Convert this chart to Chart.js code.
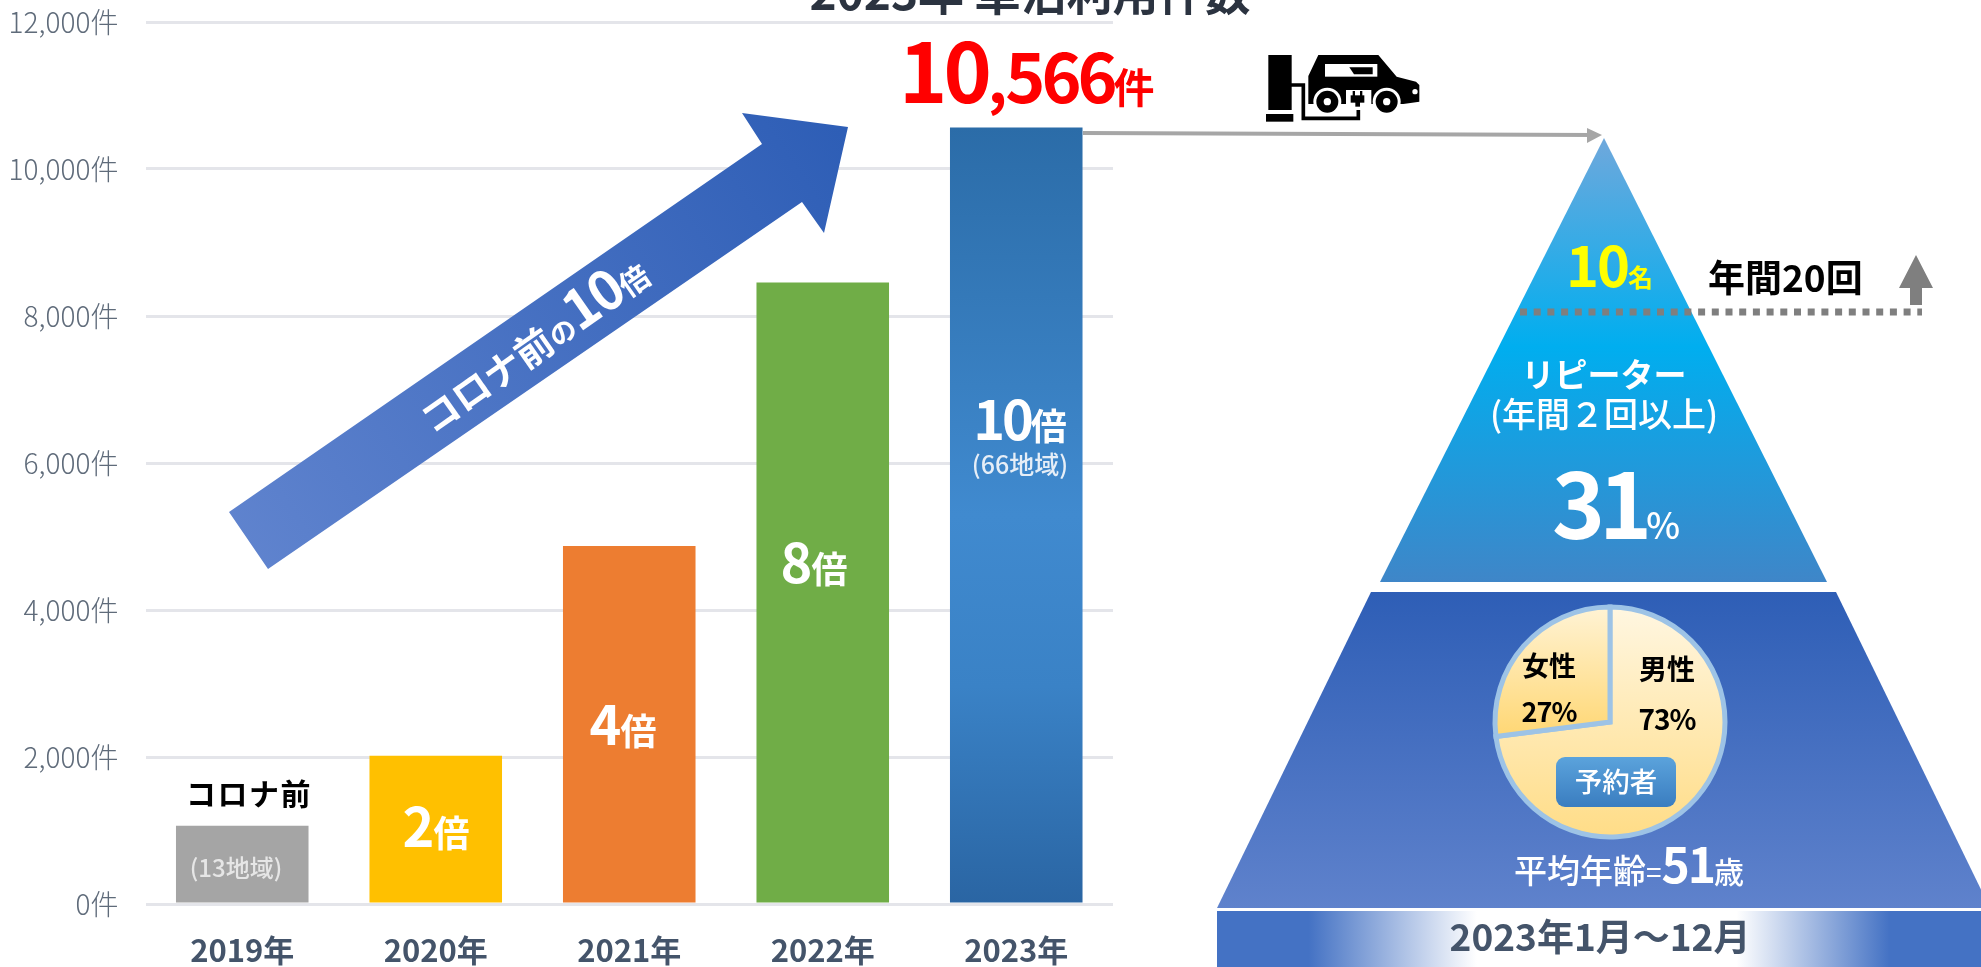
<!DOCTYPE html>
<html lang="ja">
<head>
<meta charset="utf-8">
<title>2023年 車泊利用件数</title>
<script src="https://cdn.jsdelivr.net/npm/chart.js@4"></script>
<style>
  html, body { margin: 0; padding: 0; background: #fff; overflow: hidden; }
  #wrap { position: relative; width: 1981px; height: 967px; }
  #barChart { position: absolute; left: 0; top: 0; }
  #pieChart { position: absolute; left: 1490px; top: 602px; }
</style>
</head>
<body>
<div id="wrap">
  <canvas id="barChart" width="1981" height="967"></canvas>
  <canvas id="pieChart" width="240" height="240"></canvas>
</div>
<script>
// Values
const years = ['2019年', '2020年', '2021年', '2022年', '2023年'];
const usage = [1065, 2017, 4870, 8456, 10566];
const barColors = ['#A5A5A5', '#FFC000', '#ED7D31', '#70AD47', null];
const genderLabels = ['男性', '女性'];
const genderShare = [73, 27];

const FONT = '"Noto Sans CJK JP", "Noto Sans", sans-serif';

// Draw a row of text pieces on one baseline. Each piece: [text, size, letter spacing, weight]
function drawRuns(ctx, x, y, runs, color, align) {
    ctx.save();
    ctx.fillStyle = color;
    ctx.textBaseline = 'alphabetic';
    ctx.textAlign = 'left';
    const setFont = r => {
        ctx.font = `${r[3] || 700} ${r[1]}px ${FONT}`;
        ctx.letterSpacing = `${r[2] || 0}px`;
    };
    let total = 0;
    runs.forEach(r => {
        setFont(r);
        total += ctx.measureText(r[0]).width;
    });
    let cx = align === 'center' ? x - total / 2 : x;
    runs.forEach(r => {
        setFont(r);
        ctx.fillText(r[0], cx, y);
        cx += ctx.measureText(r[0]).width;
    });
    ctx.restore();
}

function poly(ctx, points, fill) {
    ctx.beginPath();
    points.forEach((p, i) => i ? ctx.lineTo(p[0], p[1]) : ctx.moveTo(p[0], p[1]));
    ctx.closePath();
    ctx.fillStyle = fill;
    ctx.fill();
}

function linear(ctx, x0, y0, x1, y1, stops) {
    const g = ctx.createLinearGradient(x0, y0, x1, y1);
    stops.forEach(s => g.addColorStop(s[0], s[1]));
    return g;
}

function drawCarIcon(ctx) {
    ctx.save();
    ctx.translate(1250, 40);
    ctx.scale(1 / 3, 1 / 3);
    ctx.fillStyle = '#000';
    ctx.fillRect(55, 45, 70, 165);
    ctx.fillRect(48, 222, 82, 23);
    // cable
    ctx.strokeStyle = '#000';
    ctx.lineWidth = 11;
    ctx.beginPath();
    ctx.moveTo(120, 135);
    ctx.lineTo(160, 135);
    ctx.lineTo(160, 235);
    ctx.lineTo(325, 235);
    ctx.lineTo(325, 195);
    ctx.stroke();
    // body
    ctx.beginPath();
    ctx.moveTo(175, 192);
    ctx.lineTo(175, 108);
    ctx.lineTo(205, 45);
    ctx.lineTo(385, 45);
    ctx.lineTo(440, 110);
    ctx.lineTo(498, 125);
    ctx.lineTo(508, 135);
    ctx.lineTo(508, 185);
    ctx.lineTo(460, 192);
    ctx.closePath();
    ctx.fill();
    // window
    ctx.fillStyle = '#fff';
    ctx.fillRect(225, 72, 157, 38);
    poly(ctx, [[298, 82], [368, 82], [368, 103], [312, 103]], '#000');
    // wheel arches and plug gap
    ctx.fillStyle = '#fff';
    [[232, 185], [410, 185]].forEach(w => {
        ctx.beginPath();
        ctx.arc(w[0], w[1], 42, 0, Math.PI * 2);
        ctx.fill();
    });
    ctx.fillRect(288, 150, 76, 60);
    ctx.fillStyle = '#000';
    [[232, 185], [410, 185]].forEach(w => {
        ctx.beginPath();
        ctx.arc(w[0], w[1], 33, 0, Math.PI * 2);
        ctx.fill();
        ctx.fillStyle = '#fff';
        ctx.beginPath();
        ctx.arc(w[0], w[1], 11, 0, Math.PI * 2);
        ctx.fill();
        ctx.fillStyle = '#000';
    });
    // plug
    ctx.fillRect(308, 153, 7, 15);
    ctx.fillRect(330, 153, 7, 15);
    ctx.fillRect(302, 166, 41, 22);
    ctx.fillRect(316, 186, 14, 14);
    ctx.fillStyle = '#fff';
    ctx.beginPath();
    ctx.arc(495, 155, 8, 0, Math.PI * 2);
    ctx.fill();
    ctx.restore();
}

// Shapes behind the bars: the pyramid on the right. Notes go on top afterwards.
const backdrop = {
    id: 'backdrop',
    beforeDraw(chart) {
        const ctx = chart.ctx;

        // upper pyramid
        poly(ctx, [[1604, 138], [1827, 582], [1380, 582]],
            linear(ctx, 0, 138, 0, 582, [[0, '#6FA8DC'], [0.47, '#00AEEF'], [1, '#3F86C8']]));
        // lower pyramid
        poly(ctx, [[1371, 592], [1836, 592], [1990, 908], [1217, 908]],
            linear(ctx, 0, 592, 0, 908, [[0, '#2E5EB6'], [1, '#5F82CC']]));
        // period strip
        ctx.fillStyle = linear(ctx, 1217, 0, 1981, 0, [[0, '#4472C4'], [0.12, '#4472C4'], [0.34, '#FFFFFF'],
            [0.68, '#FFFFFF'], [0.88, '#4472C4'], [1, '#4472C4']]);
        ctx.fillRect(1217, 911, 764, 56);
    },
    afterDraw(chart) {
        const ctx = chart.ctx;

        // big rising arrow
        poly(ctx, [[229, 512], [762, 144], [742, 113], [848, 127], [824, 233], [802, 202], [268, 569]],
            linear(ctx, 240, 540, 840, 130, [[0, '#5F83CE'], [1, '#2E5EB6']]));
        ctx.save();
        ctx.translate(535, 347);
        ctx.rotate(-35 * Math.PI / 180);
        drawRuns(ctx, 0, 14, [['コロナ前', 38], ['の', 27], ['10', 54, -2], ['倍', 30]], '#fff', 'center');
        ctx.restore();

        // heading, cut by the top of the picture as in the source
        drawRuns(ctx, 1030, 10, [['2023年 車泊利用件数', 46]], '#2B3340', 'center');
        drawRuns(ctx, 899, 103, [['10', 82, -4], [',', 60, -2], ['566', 68, -4], ['件', 41]], '#FF0000');

        // connector to pyramid
        ctx.strokeStyle = '#A6A6A6';
        ctx.lineWidth = 4;
        ctx.beginPath();
        ctx.moveTo(1083, 133);
        ctx.lineTo(1595, 135);
        ctx.stroke();
        poly(ctx, [[1602, 135], [1587, 128], [1587, 143]], '#A6A6A6');
        drawCarIcon(ctx);

        // bar notes
        drawRuns(ctx, 249, 805, [['コロナ前', 30, 1.5]], '#000', 'center');
        drawRuns(ctx, 236, 877, [['(13地域)', 24, 0, 500]], '#E6E6E6', 'center');
        drawRuns(ctx, 436, 847, [['2', 54, -1], ['倍', 36]], '#fff', 'center');
        drawRuns(ctx, 623, 745, [['4', 54, -1], ['倍', 36]], '#fff', 'center');
        drawRuns(ctx, 814, 583, [['8', 54, -1], ['倍', 36]], '#fff', 'center');
        drawRuns(ctx, 1020, 440, [['10', 54, -3], ['倍', 36]], '#fff', 'center');
        drawRuns(ctx, 1020, 474, [['(66地域)', 25, 0, 500]], '#E6EEF7', 'center');

        // pyramid text
        drawRuns(ctx, 1566, 287, [['10', 56, -2], ['名', 25]], '#FFFF00');
        drawRuns(ctx, 1708, 292, [['年間20回', 37]], '#000');
        poly(ctx, [[1916, 255], [1933, 288], [1922, 288], [1922, 305], [1910, 305], [1910, 288], [1899, 288]], '#7F7F7F');
        ctx.save();
        ctx.strokeStyle = '#7F7F7F';
        ctx.lineWidth = 7;
        ctx.setLineDash([7, 6.7]);
        ctx.beginPath();
        ctx.moveTo(1520, 312);
        ctx.lineTo(1922, 312);
        ctx.stroke();
        ctx.restore();
        drawRuns(ctx, 1604, 387, [['リピーター', 33]], '#fff', 'center');
        drawRuns(ctx, 1604, 427, [['(年間２回以上)', 34, 0, 500]], '#fff', 'center');
        drawRuns(ctx, 1552, 539, [['31', 90, -6], ['%', 36, 0, 500]], '#fff');
        drawRuns(ctx, 1629, 883, [['平均年齢', 33, 0, 500], ['=', 28, 0, 400], ['51', 48, -2], ['歳', 30, 0, 500]], '#fff', 'center');
        drawRuns(ctx, 1600, 951, [['2023年1月～12月', 37]], '#44546A', 'center');
    }
};

const barCtx = document.getElementById('barChart').getContext('2d');
const lastBarFill = linear(barCtx, 0, 127, 0, 904, [[0, '#2B6CA8'], [0.5, '#408ACF'], [0.72, '#3A82C6'], [1, '#2A65A3']]);

new Chart(barCtx, {
    type: 'bar',
    data: {
        labels: years,
        datasets: [{
            data: usage,
            backgroundColor: barColors.map(c => c || lastBarFill),
            categoryPercentage: 1,
            barPercentage: 0.685
        }]
    },
    options: {
        responsive: false,
        animation: false,
        layout: { padding: { left: 0, top: 22, right: 868, bottom: 0 } },
        plugins: { legend: { display: false }, tooltip: { enabled: false } },
        scales: {
            x: {
                grid: { display: false },
                border: { display: false },
                ticks: { color: '#44546A', padding: 20, maxRotation: 0, font: { family: FONT, size: 31, weight: 700 } },
                afterFit: s => { s.height = 63; s.paddingLeft = 0; s.paddingRight = 0; }
            },
            y: {
                min: 0,
                max: 12000,
                grid: { color: '#E4E5EA', lineWidth: 3, drawTicks: false },
                border: { display: false },
                ticks: {
                    stepSize: 2000,
                    color: '#5F6B7A',
                    padding: 27,
                    font: { family: FONT, size: 28, weight: 300 },
                    callback: v => v.toLocaleString('en-US') + '件'
                },
                afterFit: s => { s.width = 145.5; s.paddingTop = 0; s.paddingBottom = 0; }
            }
        }
    },
    plugins: [backdrop]
});

// Small pie inside the lower pyramid. The canvas sits at 1490,602 on the page.
const pieCtx = document.getElementById('pieChart').getContext('2d');
const pieNotes = {
    id: 'pieNotes',
    afterDraw(chart) {
        const ctx = chart.ctx;
        ctx.save();
        ctx.translate(-1490, -602);
        drawRuns(ctx, 1667, 680, [['男性', 28]], '#000', 'center');
        drawRuns(ctx, 1667, 730, [['73%', 28, -1]], '#000', 'center');
        drawRuns(ctx, 1549, 676, [['女性', 27]], '#000', 'center');
        drawRuns(ctx, 1549, 722, [['27%', 27, -1]], '#000', 'center');
        ctx.fillStyle = linear(ctx, 0, 757, 0, 807, [[0, '#5BA3DC'], [1, '#3A7DC0']]);
        ctx.beginPath();
        ctx.roundRect(1556, 757, 120, 50, 9);
        ctx.fill();
        drawRuns(ctx, 1616, 792, [['予約者', 27.5, 0, 500]], '#fff', 'center');
        ctx.restore();
    }
};

new Chart(pieCtx, {
    type: 'pie',
    data: {
        labels: genderLabels,
        datasets: [{
            data: genderShare,
            backgroundColor: [
                linear(pieCtx, 0, 0, 0, 240, [[0, '#FFF7E3'], [1, '#FFDC85']]),
                linear(pieCtx, 0, 0, 0, 130, [[0, '#FFF4D8'], [1, '#FFD877']])
            ],
            borderColor: '#9DC3E6',
            borderWidth: 5,
            borderJoinStyle: 'miter'
        }]
    },
    options: {
        responsive: false,
        animation: false,
        radius: 115,
        plugins: { legend: { display: false }, tooltip: { enabled: false } }
    },
    plugins: [pieNotes]
});
</script>
</body>
</html>
